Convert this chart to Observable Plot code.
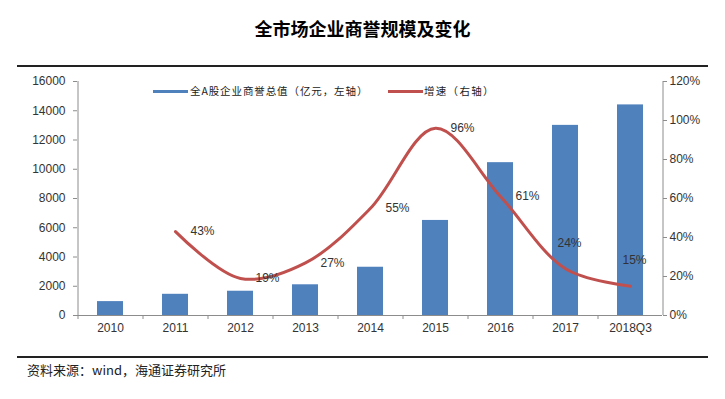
<!DOCTYPE html>
<html>
<head>
<meta charset="utf-8">
<script src="https://cdn.jsdelivr.net/npm/d3@7"></script>
<script src="https://cdn.jsdelivr.net/npm/@observablehq/plot@0.6"></script>
<style>
  html, body { margin: 0; padding: 0; background: #fff; }
  #wrap { position: relative; width: 725px; height: 399px; overflow: hidden; font-family: "Noto Sans CJK SC", sans-serif; }
  #title { position: absolute; top: 14px; left: 0; width: 725px; text-align: center; font-size: 18px; font-weight: bold; color: #000; line-height: 28px; }
  .hline { position: absolute; left: 17px; width: 691px; height: 2px; background: #222; }
  #chart { position: absolute; top: 67px; left: 0; }
  .lg { position: absolute; font-size: 10.5px; color: #222; white-space: nowrap; line-height: 16px; top: 83px; }
  .sw { position: absolute; width: 35px; height: 3px; top: 90px; }
  #caption { position: absolute; top: 361px; left: 27px; font-size: 13px; color: #222; line-height: 18px; }
</style>
</head>
<body>
<div id="wrap">
  <div id="title">全市场企业商誉规模及变化</div>
  <div class="hline" style="top:65px"></div>
  <div id="chart"></div>
  <div class="sw" style="left:153px;background:#4F81BD"></div>
  <div class="lg" style="left:190px;letter-spacing:0.9px">全A股企业商誉总值（亿元，左轴）</div>
  <div class="sw" style="left:388px;background:#C0504D"></div>
  <div class="lg" style="left:424px;letter-spacing:1.3px">增速（右轴）</div>
  <div class="hline" style="top:356px"></div>
  <div id="caption">资料来源：wind，海通证券研究所</div>
</div>
<script>
const categories = ["2010", "2011", "2012", "2013", "2014", "2015", "2016", "2017", "2018Q3"];
const goodwill = [950, 1450, 1660, 2100, 3300, 6500, 10450, 13000, 14400];
const growth = [null, 43, 19, 27, 55, 96, 61, 24, 15];
const leftTicks = [0, 2000, 4000, 6000, 8000, 10000, 12000, 14000, 16000];
const rightTicks = [0, 20, 40, 60, 80, 100, 120];

const LEFT_MAX = 16000, RIGHT_MAX = 120;
const toLeft = p => p * LEFT_MAX / RIGHT_MAX;

const table = categories.map((c, i) => ({cat: c, v: goodwill[i], g: growth[i], i}));
const lineData = table.filter(d => d.g != null);
const labelsA = lineData.filter(d => d.i <= 6);
const labelsB = lineData.filter(d => d.i > 6);

const step = 585 / 9;
const axisColor = "#8c8c8c";

const chart = Plot.plot({
  width: 725,
  height: 290,
  marginTop: 14,
  marginBottom: 42,
  marginLeft: 77,
  marginRight: 63,
  style: {fontFamily: "'Liberation Sans', Arial, sans-serif", fontSize: "12px", color: "#333", background: "transparent"},
  x: {domain: categories, paddingInner: 0.6, paddingOuter: 0.3, label: null},
  y: {domain: [0, LEFT_MAX], label: null},
  marks: [
    Plot.barY(table, {x: "cat", y: "v", fill: "#4F81BD"}),
    Plot.ruleY([0], {stroke: axisColor}),
    Plot.ruleX([categories[0]], {dx: -step / 2, stroke: axisColor}),
    Plot.ruleX([categories[categories.length - 1]], {dx: step / 2, stroke: axisColor}),
    Plot.axisY(leftTicks, {anchor: "left", tickSize: 4, tickPadding: 8, stroke: axisColor, tickFormat: d => String(d), label: null}),
    Plot.axisY(rightTicks.map(toLeft), {anchor: "right", tickSize: 4, tickPadding: 3, stroke: axisColor, tickFormat: d => Math.round(d * RIGHT_MAX / LEFT_MAX) + "%", label: null}),
    Plot.axisX({tickSize: 4, text: null, dx: -step / 2, stroke: axisColor, label: null}),
    Plot.axisX({tickSize: 0, tickPadding: 8, label: null}),
    Plot.line(lineData, {x: "cat", y: d => toLeft(d.g), stroke: "#C0504D", strokeWidth: 3, curve: "catmull-rom"}),
    Plot.text(labelsA, {x: "cat", y: d => toLeft(d.g), text: d => d.g + "%", dx: 27, fill: "#333"}),
    Plot.text(labelsB, {x: "cat", y: d => toLeft(d.g), text: d => d.g + "%", dx: 4, dy: -26, fill: "#333"})
  ]
});
document.getElementById("chart").appendChild(chart);
</script>
</body>
</html>
